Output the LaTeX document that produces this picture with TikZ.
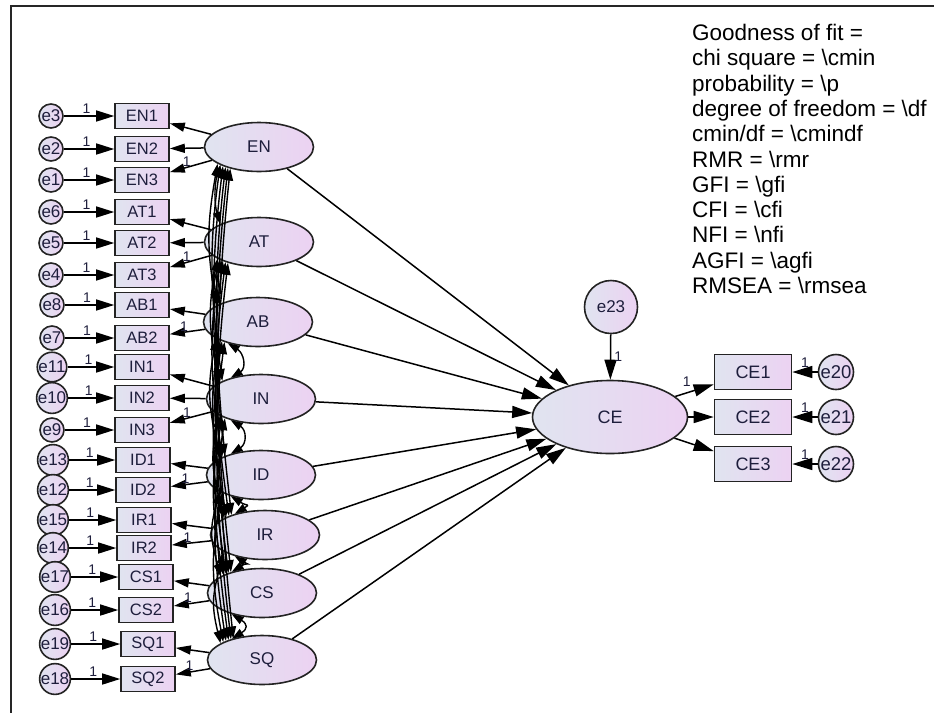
\documentclass[tikz,border=0pt]{standalone}
\usepackage{fontspec}
\setmainfont{Liberation Sans}
\usetikzlibrary{arrows.meta,shapes.geometric,calc}
\definecolor{navy}{RGB}{30,30,60}
\definecolor{fillL}{RGB}{224,228,240}
\definecolor{fillR}{RGB}{236,210,242}
\definecolor{edge}{RGB}{35,35,35}
\begin{document}
\begin{tikzpicture}[x=1pt,y=-1pt,
  every node/.style={text=navy},
  shadefill/.style={left color=fillL, right color=fillR, draw=edge, line width=1.6pt},
  latent/.style={ellipse, shadefill, minimum width=109pt, minimum height=49pt, inner sep=0pt, font=\fontsize{17}{19}\selectfont},
  obs/.style={rectangle, shadefill, minimum width=54pt, minimum height=25pt, inner sep=0pt, font=\fontsize{16.5}{18}\selectfont},
  err/.style={circle, shadefill, minimum size=24pt, inner sep=0pt, font=\fontsize{17}{18}\selectfont},
  one/.style={font=\fontsize{14}{15}\selectfont, inner sep=1pt},
  reg/.style={-{Triangle[length=15pt,width=9pt]}, line width=1.5pt},
  errarrow/.style={-{Triangle[length=18pt,width=11pt]}, line width=1.5pt},
  big/.style={-{Triangle[length=20pt,width=12pt]}, line width=1.5pt},
  cov/.style={{Triangle[length=12pt,width=8pt]}-{Triangle[length=12pt,width=8pt]}, line width=1.4pt},
  fit/.style={anchor=base west, inner sep=0pt, text=black, font=\fontsize{22.5}{25}\selectfont}
]
\useasboundingbox (0,0) rectangle (934,713);
\draw[line width=2pt, black!85] (934,6) -- (11,6) -- (11,713);

% latent factors
\foreach \n/\x/\y in {EN/259/147, AT/259/242, AB/258/322, IN/261/399, ID/261/475, IR/265/535, CS/262/593, SQ/262/660}
  \node[latent] (\n) at (\x,\y) {\n};

% indicators and errors
\foreach \f/\n/\e/\x/\y/\ex in {EN/EN1/e3/142/116/51, EN/EN2/e2/142/149/51, EN/EN3/e1/142/180/51,
  AT/AT1/e6/142/212/51, AT/AT2/e5/142/243/51, AT/AT3/e4/142/275/51,
  AB/AB1/e8/142/305/52, AB/AB2/e7/142/338/52,
  IN/IN1/e11/142/367/52, IN/IN2/e10/142/398/52, IN/IN3/e9/142/430/52,
  ID/ID1/e13/143/460/53, ID/ID2/e12/143/490/53,
  IR/IR1/e15/144/520/53, IR/IR2/e14/144/548/53,
  CS/CS1/e17/146/577/55, CS/CS2/e16/146/610/55,
  SQ/SQ1/e19/148/644/55, SQ/SQ2/e18/148/679/55}
{
  \node[obs] (\n) at (\x,\y) {\n};
  \node[err] (\e) at (\ex,\y) {\e};
  \draw[errarrow] (\e) -- node[one, above=1pt, pos=0.45] {1} (\n);
  \draw[reg] (\f) -- (\n);
}

% fixed loading labels
\foreach \f/\n in {EN/EN3, AT/AT3, AB/AB2, IN/IN3, ID/ID2, IR/IR2, CS/CS2, SQ/SQ2}
  \path (\f) -- node[one, pos=0.6, above=0pt] {1} (\n);

% covariances
\foreach \fa/\ya [count=\i] in {EN/147,AT/242,AB/322,IN/399,ID/475,IR/535,CS/593,SQ/660}{
  \foreach \fb/\yb [count=\j] in {EN/147,AT/242,AB/322,IN/399,ID/475,IR/535,CS/593,SQ/660}{
    \ifnum\j>\i
      \ifnum\j=\numexpr\i+1\relax
        \ifnum\i>2
          \draw[cov] (\fa.215) .. controls ($(\fa.215)+(16,10)$) and ($(\fb.145)+(16,-10)$) .. (\fb.145);
        \else
          \draw[cov] (\fa.205) .. controls ($(\fa.205)+(-6,20)$) and ($(\fb.155)+(-6,-20)$) .. (\fb.155);
        \fi
      \else
        \pgfmathsetmacro\bb{7+1.6*(\j-\i)}
        \pgfmathsetmacro\dd{(\yb-\ya)/3}
        \pgfmathsetmacro\sa{196+3*(\j-\i)}
        \pgfmathsetmacro\ea{164-3*(\j-\i)}
        \draw[cov] (\fa.\sa) .. controls ($(\fa.\sa)+(-\bb,\dd)$) and ($(\fb.\ea)+(-\bb,-\dd)$) .. (\fb.\ea);
      \fi
    \fi
  }
}

% endogenous part
\node[latent, minimum width=155pt, minimum height=73pt, font=\fontsize{18}{20}\selectfont] (CE) at (610,417) {CE};
\node[err, minimum size=53pt, font=\fontsize{17}{18}\selectfont] (e23) at (611,307) {e23};
\draw[big] (e23) -- node[one, right=2pt, pos=0.5] {1} (CE);
\foreach \f in {EN,AT,AB,IN,ID,IR,CS,SQ}
  \draw[big] (\f) -- (CE);
\foreach \n/\e/\y in {CE1/e20/372, CE2/e21/417, CE3/e22/464}{
  \node[obs, minimum width=77pt, minimum height=35pt, font=\fontsize{18}{20}\selectfont] (\n) at (753,\y) {\n};
  \node[err, minimum size=35pt, font=\fontsize{18.5}{20}\selectfont] (\e) at (836,\y) {\e};
  \draw[big] (\e) -- node[one, above=3pt, pos=0.5] {1} (\n);
  \draw[big] (CE) -- (\n);
}
\path (CE) -- node[one, pos=0.3, above=5pt] {1} (CE1);

% fit text
\node[fit] (t1) at (692,40.5) {Goodness of fit =};
\node[fit] (t2) at (692,65.8) {chi square = \textbackslash cmin};
\node[fit] (t3) at (692,91.1) {probability = \textbackslash p};
\node[fit] (t4) at (692,116.4) {degree of freedom = \textbackslash df};
\node[fit] (t5) at (692,141.7) {cmin/df = \textbackslash cmindf};
\node[fit] (t6) at (692,167.0) {RMR = \textbackslash rmr};
\node[fit] (t7) at (692,192.3) {GFI = \textbackslash gfi};
\node[fit] (t8) at (692,217.6) {CFI = \textbackslash cfi};
\node[fit] (t9) at (692,242.9) {NFI = \textbackslash nfi};
\node[fit] (t10) at (692,268.2) {AGFI = \textbackslash agfi};
\node[fit] (t11) at (692,293.5) {RMSEA = \textbackslash rmsea};
\end{tikzpicture}
\end{document}
